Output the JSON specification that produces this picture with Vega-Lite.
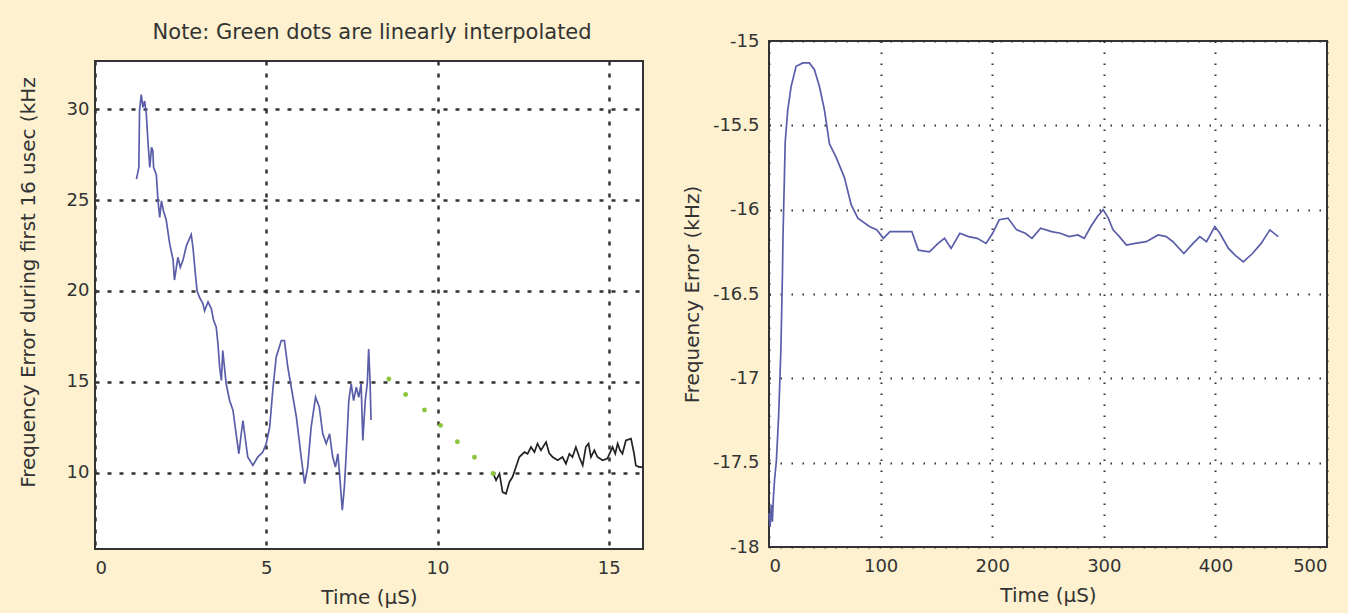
{
  "$schema": "https://vega.github.io/schema/vega-lite/v6.json",
  "background": "#FDF1CF",
  "padding": {"left": 17, "top": 22, "right": 20, "bottom": 8},
  "datasets": {
    "leftBlue": [
      {"t":1.21,"f":26.15},{"t":1.28,"f":26.8},{"t":1.30,"f":29.9},{"t":1.35,"f":30.8},{"t":1.40,"f":30.1},{"t":1.45,"f":30.45},{"t":1.50,"f":29.7},{"t":1.55,"f":28.1},{"t":1.60,"f":26.8},{"t":1.65,"f":27.9},{"t":1.69,"f":27.7},{"t":1.71,"f":26.8},{"t":1.79,"f":26.4},{"t":1.84,"f":24.95},{"t":1.89,"f":24.05},{"t":1.94,"f":24.95},{"t":2.00,"f":24.4},{"t":2.08,"f":23.9},{"t":2.18,"f":22.6},{"t":2.28,"f":21.7},{"t":2.32,"f":20.6},{"t":2.42,"f":21.85},{"t":2.49,"f":21.3},{"t":2.57,"f":21.7},{"t":2.67,"f":22.5},{"t":2.81,"f":23.1},{"t":2.86,"f":22.4},{"t":2.94,"f":20.75},{"t":2.98,"f":20.0},{"t":3.05,"f":19.65},{"t":3.15,"f":19.3},{"t":3.20,"f":18.9},{"t":3.30,"f":19.4},{"t":3.40,"f":19.0},{"t":3.46,"f":18.4},{"t":3.54,"f":18.0},{"t":3.59,"f":17.09},{"t":3.64,"f":15.8},{"t":3.69,"f":15.07},{"t":3.73,"f":16.72},{"t":3.78,"f":15.8},{"t":3.83,"f":14.89},{"t":3.93,"f":13.97},{"t":4.03,"f":13.42},{"t":4.12,"f":12.14},{"t":4.20,"f":11.04},{"t":4.27,"f":12.14},{"t":4.32,"f":12.87},{"t":4.37,"f":12.14},{"t":4.46,"f":10.86},{"t":4.61,"f":10.4},{"t":4.75,"f":10.86},{"t":4.90,"f":11.13},{"t":5.00,"f":11.6},{"t":5.10,"f":12.5},{"t":5.19,"f":14.52},{"t":5.29,"f":16.35},{"t":5.44,"f":17.27},{"t":5.53,"f":17.27},{"t":5.63,"f":15.8},{"t":5.73,"f":14.7},{"t":5.88,"f":13.05},{"t":6.02,"f":10.86},{"t":6.12,"f":9.40},{"t":6.21,"f":10.31},{"t":6.31,"f":12.5},{"t":6.44,"f":14.15},{"t":6.55,"f":13.6},{"t":6.65,"f":12.14},{"t":6.75,"f":11.6},{"t":6.85,"f":12.14},{"t":6.94,"f":10.86},{"t":7.02,"f":10.31},{"t":7.09,"f":11.04},{"t":7.14,"f":9.95},{"t":7.22,"f":7.93},{"t":7.28,"f":9.2},{"t":7.33,"f":10.86},{"t":7.41,"f":13.97},{"t":7.48,"f":14.89},{"t":7.55,"f":13.97},{"t":7.63,"f":14.7},{"t":7.70,"f":14.15},{"t":7.77,"f":14.89},{"t":7.82,"f":11.77},{"t":7.89,"f":13.97},{"t":7.95,"f":14.89},{"t":7.99,"f":16.8},{"t":8.03,"f":15.07},{"t":8.06,"f":12.9}
    ],
    "leftBlack": [
      {"t":11.61,"f":10.03},{"t":11.71,"f":9.58},{"t":11.81,"f":9.95},{"t":11.90,"f":8.93},{"t":12.00,"f":8.84},{"t":12.10,"f":9.49},{"t":12.19,"f":9.76},{"t":12.29,"f":10.31},{"t":12.39,"f":10.86},{"t":12.54,"f":11.13},{"t":12.63,"f":11.04},{"t":12.73,"f":11.41},{"t":12.83,"f":11.13},{"t":12.92,"f":11.6},{"t":13.02,"f":11.23},{"t":13.17,"f":11.68},{"t":13.26,"f":11.08},{"t":13.36,"f":10.86},{"t":13.51,"f":10.68},{"t":13.65,"f":10.86},{"t":13.75,"f":10.49},{"t":13.85,"f":11.04},{"t":13.94,"f":10.86},{"t":14.04,"f":11.41},{"t":14.14,"f":10.86},{"t":14.24,"f":10.4},{"t":14.33,"f":11.41},{"t":14.41,"f":11.6},{"t":14.48,"f":10.86},{"t":14.58,"f":11.23},{"t":14.67,"f":10.86},{"t":14.82,"f":10.68},{"t":14.96,"f":10.77},{"t":15.11,"f":11.41},{"t":15.19,"f":11.04},{"t":15.26,"f":11.6},{"t":15.33,"f":11.23},{"t":15.40,"f":11.04},{"t":15.50,"f":11.77},{"t":15.65,"f":11.87},{"t":15.74,"f":11.04},{"t":15.79,"f":10.4},{"t":15.89,"f":10.31},{"t":16.0,"f":10.31}
    ],
    "leftGreen": [
      {"t":8.58,"f":15.15},{"t":9.07,"f":14.3},{"t":9.62,"f":13.45},{"t":10.09,"f":12.6},{"t":10.58,"f":11.7},{"t":11.08,"f":10.85},{"t":11.62,"f":9.95}
    ],
    "right": [
      {"t":0,"f":-17.8},{"t":1,"f":-17.88},{"t":2,"f":-17.75},{"t":3,"f":-17.85},{"t":4,"f":-17.7},{"t":5,"f":-17.6},{"t":6.6,"f":-17.49},{"t":8.6,"f":-17.23},{"t":10.6,"f":-16.84},{"t":12.0,"f":-16.4},{"t":12.6,"f":-16.14},{"t":13.8,"f":-15.81},{"t":14.5,"f":-15.6},{"t":16.8,"f":-15.41},{"t":19.8,"f":-15.27},{"t":24.3,"f":-15.15},{"t":30.3,"f":-15.13},{"t":36.2,"f":-15.13},{"t":40.7,"f":-15.17},{"t":45.2,"f":-15.27},{"t":49.7,"f":-15.41},{"t":54.2,"f":-15.61},{"t":60.2,"f":-15.69},{"t":67.6,"f":-15.81},{"t":73.6,"f":-15.97},{"t":79.6,"f":-16.05},{"t":90.0,"f":-16.1},{"t":96.7,"f":-16.12},{"t":102.5,"f":-16.17},{"t":108.4,"f":-16.13},{"t":128,"f":-16.13},{"t":133.8,"f":-16.24},{"t":143.7,"f":-16.25},{"t":151.5,"f":-16.2},{"t":157.3,"f":-16.17},{"t":163.2,"f":-16.23},{"t":171,"f":-16.14},{"t":178.8,"f":-16.16},{"t":186.6,"f":-16.17},{"t":194.5,"f":-16.2},{"t":200.4,"f":-16.14},{"t":206.3,"f":-16.06},{"t":214.1,"f":-16.05},{"t":221.9,"f":-16.12},{"t":229.7,"f":-16.14},{"t":235.6,"f":-16.17},{"t":243.4,"f":-16.11},{"t":253.2,"f":-16.13},{"t":261,"f":-16.14},{"t":268.9,"f":-16.16},{"t":276.7,"f":-16.15},{"t":282.5,"f":-16.17},{"t":288.4,"f":-16.1},{"t":294.3,"f":-16.04},{"t":299.4,"f":-16.0},{"t":304,"f":-16.05},{"t":308.3,"f":-16.12},{"t":314,"f":-16.16},{"t":320.3,"f":-16.21},{"t":328,"f":-16.2},{"t":338,"f":-16.19},{"t":348.7,"f":-16.15},{"t":356,"f":-16.16},{"t":362,"f":-16.19},{"t":371.7,"f":-16.26},{"t":380,"f":-16.2},{"t":386,"f":-16.16},{"t":392,"f":-16.19},{"t":399.5,"f":-16.1},{"t":404,"f":-16.14},{"t":411.7,"f":-16.23},{"t":417.6,"f":-16.27},{"t":425,"f":-16.31},{"t":433.2,"f":-16.26},{"t":441,"f":-16.2},{"t":448.8,"f":-16.12},{"t":456.3,"f":-16.16}
    ],
    "empty": []
  },
  "config": {
    "font": "DejaVu Sans",
    "view": {"fill": "white", "stroke": "#333", "strokeWidth": 2},
    "axis": {
      "labelFont": "DejaVu Sans", "labelFontSize": 18, "labelColor": "#333",
      "titleFont": "DejaVu Sans", "titleFontSize": 20, "titleFontWeight": "normal", "titleColor": "#333",
      "ticks": false, "domain": false, "gridColor": "#333", "gridOpacity": 1
    },
    "title": {"font": "DejaVu Sans", "fontSize": 21, "fontWeight": "normal", "color": "#333"}
  },
  "spacing": 33,
  "hconcat": [
    {
      "title": {"text": "Note: Green dots are linearly interpolated", "offset": -2, "anchor": "start", "align": "center", "frame": "bounds", "dx": 355},
      "spacing": 9,
      "vconcat": [
        {
          "width": 548, "height": 10,
          "view": {"fill": null, "stroke": null},
          "data": {"name": "empty"},
          "mark": "point",
          "encoding": {}
        },
        {
          "width": 548, "height": 488,
          "layer": [
            {
              "data": {"name": "leftBlue"},
              "mark": {"type": "line", "color": "#5a5ea8", "strokeWidth": 1.7},
              "encoding": {
                "x": {"field": "t", "type": "quantitative", "scale": {"domain": [0, 16], "nice": false},
                      "axis": {"title": "Time (μS)", "values": [0, 5, 10, 15], "gridDash": [4, 8], "gridWidth": 2.5, "labelPadding": 10, "titlePadding": 10}},
                "y": {"field": "f", "type": "quantitative", "scale": {"domain": [5.8, 32.65], "nice": false, "zero": false},
                      "axis": {"title": "Frequency Error during first 16 usec (kHz", "values": [10, 15, 20, 25, 30], "gridDash": [4, 8], "gridWidth": 2.5, "labelPadding": 6, "titlePadding": 28, "titleY": 221}}
              }
            },
            {
              "data": {"name": "leftBlack"},
              "mark": {"type": "line", "color": "#222222", "strokeWidth": 1.7},
              "encoding": {
                "x": {"field": "t", "type": "quantitative"},
                "y": {"field": "f", "type": "quantitative"}
              }
            },
            {
              "data": {"name": "leftGreen"},
              "mark": {"type": "circle", "color": "#8cc63f", "size": 24, "opacity": 1},
              "encoding": {
                "x": {"field": "t", "type": "quantitative"},
                "y": {"field": "f", "type": "quantitative"}
              }
            }
          ]
        }
      ]
    },
    {
      "width": 558, "height": 506,
      "data": {"name": "right"},
      "mark": {"type": "line", "color": "#5a5ea8", "strokeWidth": 1.7},
      "encoding": {
        "x": {"field": "t", "type": "quantitative", "scale": {"domain": [0, 500], "nice": false},
              "axis": {"title": "Time (μS)", "values": [0, 100, 200, 300, 400, 500], "gridDash": [1.5, 9.5], "gridWidth": 2, "labelPadding": 10, "titlePadding": 10}},
        "y": {"field": "f", "type": "quantitative", "scale": {"domain": [-18, -15], "nice": false, "zero": false},
              "axis": {"title": "Frequency Error (kHz)", "values": [-18, -17.5, -17, -16.5, -16, -15.5, -15], "labelExpr": "'-' + format(-datum.value, '')", "gridDash": [1.5, 9.5], "gridWidth": 2, "labelPadding": 10, "titlePadding": 10}}
      }
    }
  ]
}
